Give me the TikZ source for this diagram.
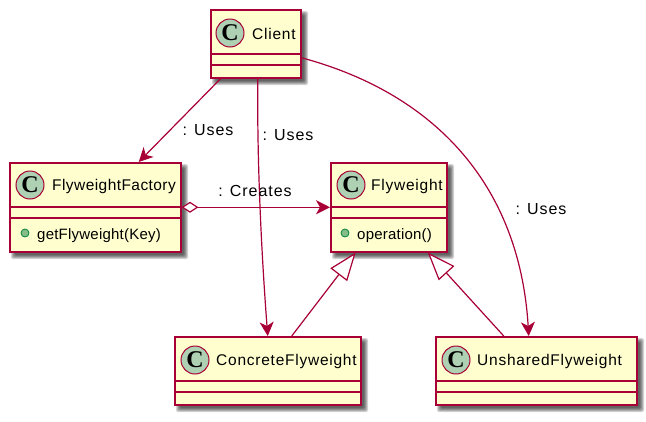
\documentclass[tikz,border=0pt]{standalone}
\usepackage{fontspec}
\setmainfont{Liberation Sans}
\newfontfamily\spotfont{Liberation Serif}
\newfontfamily\namefont[LetterSpace=4.9]{Liberation Sans}
\newfontfamily\namefontb[LetterSpace=2.8]{Liberation Sans}
\newfontfamily\memfont[LetterSpace=1.5]{Liberation Sans}
\newfontfamily\labfont[LetterSpace=6]{Liberation Sans}
\usetikzlibrary{arrows.meta,calc}
\definecolor{umlline}{HTML}{A80036}
\definecolor{umlfill}{HTML}{FEFECE}
\definecolor{umlcirc}{HTML}{ADD1B2}
\definecolor{umldotf}{HTML}{84BE84}
\definecolor{umldotd}{HTML}{038048}
\tikzset{
  x=1pt,y=-1pt,
  classbox/.style={draw=umlline,fill=umlfill,line width=1.5pt,rectangle,inner sep=0pt,anchor=north west},
  sep/.style={draw=umlline,line width=1.5pt},
  spot/.style={circle,draw=umlline,fill=umlcirc,line width=1pt,minimum size=28pt,inner sep=0pt,font=\spotfont\bfseries\fontsize{24}{24}\selectfont},
  cname/.style={anchor=west,inner sep=0pt,font=\namefont\fontsize{15.5}{17}\selectfont,text=black},
  cnameb/.style={anchor=west,inner sep=0pt,font=\namefontb\fontsize{15.5}{17}\selectfont,text=black},
  member/.style={anchor=west,inner sep=0pt,font=\memfont\fontsize{15}{17}\selectfont,text=black},
  lab/.style={inner sep=0pt,font=\labfont\fontsize{16}{18}\selectfont,text=black},
  dot/.style={circle,draw=umldotd,fill=umldotf,line width=.8pt,minimum size=8pt,inner sep=0pt},
  conn/.style={draw=umlline,line width=1.2pt},
  open arrow/.style={-{Stealth[inset=4pt,length=14pt,width=14pt,umlline]}},
  hollow/.style={{Triangle[open,length=28pt,width=21pt,fill=white,umlline]}-},
  agg arrow/.style={{Diamond[open,length=17pt,width=11pt,fill=white,umlline]}-{Stealth[inset=4pt,length=14pt,width=14pt,umlline]}}
}
\newcommand{\shadowrect}[4]{%
  \foreach \g in {0,1,2,3,4}{%
    \fill[black,opacity=.17,rounded corners=1.5pt] (#1+2+\g,#2+2+\g) rectangle (#3+8-\g,#4+8-\g);
  }%
}
\begin{document}
\begin{tikzpicture}
\useasboundingbox (0,0) rectangle (646,421);
\fill[white] (0,0) rectangle (646,421);

\shadowrect{210}{9}{300}{77}
\shadowrect{9}{162}{180}{251}
\shadowrect{330}{162}{446}{251}
\shadowrect{174}{336}{360}{404}
\shadowrect{435}{336}{636}{404}

\node[classbox,minimum width=90pt,minimum height=68pt] (client) at (210,9) {};
\node[classbox,minimum width=171pt,minimum height=89pt] (factory) at (9,162) {};
\node[classbox,minimum width=116pt,minimum height=89pt] (fly) at (330,162) {};
\node[classbox,minimum width=186pt,minimum height=68pt] (concrete) at (174,336) {};
\node[classbox,minimum width=201pt,minimum height=68pt] (unshared) at (435,336) {};

\draw[sep] (210,54) -- (300,54) (210,65) -- (300,65);
\draw[sep] (9,207) -- (180,207) (9,218) -- (180,218);
\draw[sep] (330,207) -- (446,207) (330,218) -- (446,218);
\draw[sep] (174,381) -- (360,381) (174,392) -- (360,392);
\draw[sep] (435,381) -- (636,381) (435,392) -- (636,392);

\node[spot] (s1) at (230,33) {C};
\node[spot] (s2) at (30,185) {C};
\node[spot] (s3) at (351,185) {C};
\node[spot] (s4) at (195,360) {C};
\node[spot] (s5) at (456,360) {C};

\node[cname] (t1) at (252,34) {Client};
\node[cnameb] (t2) at (52,186) {FlyweightFactory};
\node[cname] (t3) at (371,186) {Flyweight};
\node[cname] (t4) at (216,361) {ConcreteFlyweight};
\node[cname] (t5) at (477,361) {UnsharedFlyweight};

\node[dot] (d1) at (25,233) {};
\node[dot] (d2) at (345,233) {};
\node[member] (m1) at (37,236) {getFlyweight(Key)};
\node[member] (m2) at (357,236) {operation()};

% connectors
\draw[conn,open arrow] ([xshift=-35pt]client.south) -- ([xshift=43.5pt]factory.north);
\draw[conn,open arrow] ([xshift=2pt]client.south) .. controls (257,170) and (262,260) .. (concrete.north);
\draw[conn,open arrow] ([yshift=-14pt]client.east) .. controls (440,95) and (520,190) .. ([xshift=-7.5pt]unshared.north);
\draw[conn,agg arrow] (factory.east) -- (fly.west);
\draw[conn,hollow] ([xshift=-33pt]fly.south) -- ([xshift=24pt]concrete.north);
\draw[conn,hollow] ([xshift=39pt]fly.south) -- ([xshift=-32.5pt]unshared.north);

\node[lab] (l1) at (208,130) {: Uses};
\node[lab] (l2) at (288,135) {: Uses};
\node[lab] (l3) at (255,191) {: Creates};
\node[lab] (l4) at (541,209) {: Uses};
\end{tikzpicture}
\end{document}
